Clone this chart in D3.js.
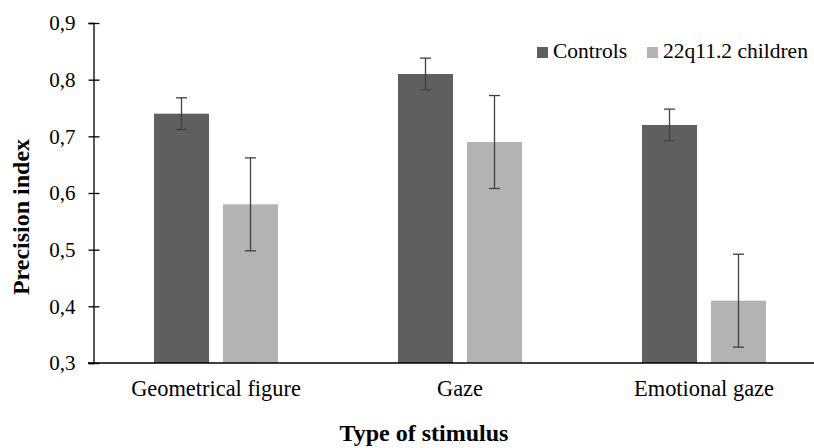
<!DOCTYPE html>
<html>
<head>
<meta charset="utf-8">
<script src="https://cdn.jsdelivr.net/npm/d3@7"></script>
<style>
  html, body { margin: 0; padding: 0; background: #fff; }
</style>
</head>
<body>
<svg id="chart" width="814" height="448"></svg>
<script>
const categories = ["Geometrical figure", "Gaze", "Emotional gaze"];
const seriesNames = ["Controls", "22q11.2 children"];
const controlsValues = [0.74, 0.81, 0.72];
const controlsErrors = [0.028, 0.028, 0.028];
const childrenValues = [0.58, 0.69, 0.41];
const childrenErrors = [0.082, 0.082, 0.082];
const yTicks = [0.3, 0.4, 0.5, 0.6, 0.7, 0.8, 0.9];
const colors = ["#5f5f5f", "#b3b3b3"];
const FONT = "'Liberation Serif', Tinos, 'Times New Roman', Times, 'DejaVu Serif', serif";

const svg = d3.select("#chart");
const x0 = 94, x1 = 826, yTop = 23, yBot = 363;

const x = d3.scaleBand().domain(categories).range([x0, x1]).paddingInner(0).paddingOuter(0);
const xs = d3.scaleBand().domain(seriesNames).range([60, 184]).paddingInner(14 / 69);
const y = d3.scaleLinear().domain([0.3, 0.9]).range([yBot, yTop]);

const data = [];
categories.forEach((c, i) => {
  data.push({ cat: c, s: seriesNames[0], v: controlsValues[i], e: controlsErrors[i], col: colors[0] });
  data.push({ cat: c, s: seriesNames[1], v: childrenValues[i], e: childrenErrors[i], col: colors[1] });
});

// bars
svg.append("g").selectAll("rect").data(data).join("rect")
  .attr("x", d => x(d.cat) + xs(d.s))
  .attr("y", d => y(d.v))
  .attr("width", xs.bandwidth())
  .attr("height", d => y(0.3) - y(d.v))
  .attr("fill", d => d.col);

// error bars
const eg = svg.append("g").attr("stroke", "#404040").attr("stroke-width", 1.3);
data.forEach(d => {
  const cx = x(d.cat) + xs(d.s) + xs.bandwidth() / 2;
  eg.append("line").attr("x1", cx).attr("x2", cx).attr("y1", y(d.v + d.e)).attr("y2", y(d.v - d.e));
  eg.append("line").attr("x1", cx - 5.5).attr("x2", cx + 5.5).attr("y1", y(d.v + d.e)).attr("y2", y(d.v + d.e));
  eg.append("line").attr("x1", cx - 5.5).attr("x2", cx + 5.5).attr("y1", y(d.v - d.e)).attr("y2", y(d.v - d.e));
});

// y axis
const yAxis = d3.axisLeft(y).tickValues(yTicks).tickSize(5).tickPadding(13)
  .tickFormat(d => d3.format(".1f")(d).replace(".", ","));
const ya = svg.append("g").attr("transform", `translate(${x0 - 0.5},0)`).call(yAxis);
ya.select(".domain").attr("stroke", "#000").attr("stroke-width", 1.3);
ya.selectAll(".tick line").attr("stroke", "#000").attr("stroke-width", 1.3).attr("x1", 6);
ya.selectAll(".tick text").style("font-family", FONT).style("font-size", "21px").attr("fill", "#000");

// x axis baseline
const xAxis = d3.axisBottom(x).tickSize(0).tickPadding(17);
const xa = svg.append("g").attr("transform", `translate(0,${yBot})`).call(xAxis);
xa.select(".domain").attr("stroke", "#000").attr("stroke-width", 1.3).attr("d", `M${x0 - 6},0H${x1}`);
xa.selectAll(".tick text").style("font-family", FONT).style("font-size", "22.4px").attr("fill", "#000");

// axis titles
svg.append("text").attr("x", 424).attr("y", 441).attr("text-anchor", "middle")
  .style("font-family", FONT).style("font-weight", "bold").style("font-size", "24px").text("Type of stimulus");
svg.append("text").attr("transform", "translate(29,217) rotate(-90)").attr("text-anchor", "middle")
  .style("font-family", FONT).style("font-weight", "bold").style("font-size", "24px").text("Precision index");

// legend
const legX = [537, 647];
seriesNames.forEach((s, i) => {
  svg.append("rect").attr("x", legX[i]).attr("y", 47).attr("width", 11).attr("height", 11).attr("fill", colors[i]);
  svg.append("text").attr("x", legX[i] + 16).attr("y", 58)
    .style("font-family", FONT).style("font-size", "21.5px").text(s);
});
</script>
</body>
</html>
